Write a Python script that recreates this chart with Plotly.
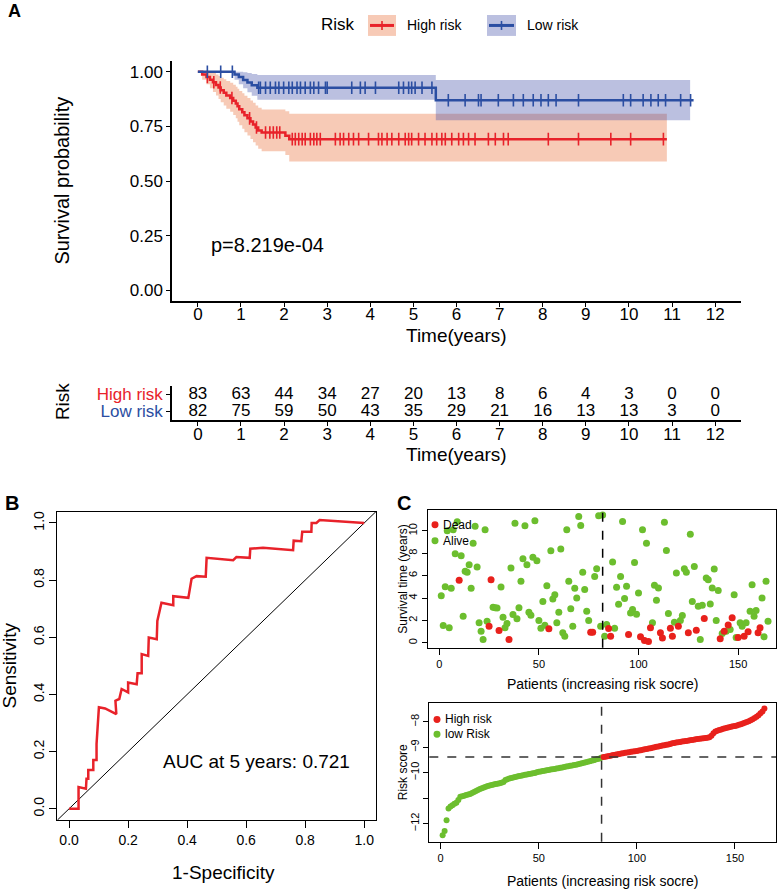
import plotly.graph_objects as go
import bisect

W, H = 778, 894
FONT = "Liberation Sans, Arial, sans-serif"

# ---------------- Panel A: Kaplan-Meier data ----------------
hr_t = [0, 0.10, 0.20, 0.28, 0.35, 0.42, 0.48, 0.53, 0.60, 0.66, 0.75, 0.82, 0.88, 0.92, 0.96,
        1.03, 1.08, 1.15, 1.22, 1.28, 1.34, 1.40, 1.48, 2.03, 2.12, 10.88]
hr_s = [1.0, 0.988, 0.976, 0.964, 0.952, 0.940, 0.928, 0.916, 0.904, 0.892, 0.880, 0.868, 0.855,
        0.842, 0.829, 0.815, 0.801, 0.787, 0.773, 0.759, 0.745, 0.731, 0.722, 0.707, 0.692, 0.692]
hr_up = [1.0, 1.0, 1.0, 0.999, 0.994, 0.988, 0.981, 0.973, 0.966, 0.958, 0.950, 0.941, 0.932,
         0.922, 0.912, 0.902, 0.891, 0.880, 0.869, 0.858, 0.846, 0.835, 0.827, 0.820, 0.808, 0.808]
hr_lo = [1.0, 0.964, 0.943, 0.925, 0.908, 0.892, 0.876, 0.861, 0.846, 0.831, 0.817, 0.802, 0.787,
         0.771, 0.756, 0.740, 0.724, 0.709, 0.693, 0.678, 0.663, 0.648, 0.637, 0.619, 0.590, 0.590]
hr_c = [0.22, 0.37, 0.52, 0.79, 1.20, 1.36, 1.57, 1.67, 1.75, 1.83, 1.90, 2.19, 2.26, 2.34, 2.42,
        2.49, 2.61, 2.69, 2.76, 2.84, 3.19, 3.30, 3.38, 3.50, 3.61, 3.73, 3.96, 4.19, 4.27, 4.39,
        4.50, 4.66, 4.81, 4.89, 4.96, 5.12, 5.27, 5.43, 5.54, 5.66, 5.74, 5.89, 6.05, 6.16, 6.28,
        6.43, 6.74, 6.90, 7.09, 7.20, 8.13, 8.83, 9.58, 10.04, 10.80]

lr_t = [0, 0.85, 0.95, 1.05, 1.15, 1.25, 1.38, 5.52, 11.50]
lr_s = [1.0, 0.988, 0.976, 0.963, 0.951, 0.939, 0.927, 0.870, 0.870]
lr_up = [1.0, 1.0, 1.0, 0.998, 0.994, 0.990, 0.985, 0.963, 0.963]
lr_lo = [1.0, 0.964, 0.943, 0.925, 0.907, 0.890, 0.872, 0.778, 0.778]
lr_c = [0.22, 0.53, 0.80, 1.41, 1.45, 1.57, 1.68, 1.80, 1.88, 1.99, 2.11, 2.19, 2.30, 2.38, 2.49,
        2.61, 2.69, 2.80, 2.96, 3.00, 3.57, 3.77, 3.88, 4.12, 4.66, 4.77, 4.89, 4.96, 5.04, 5.20,
        5.43, 5.81, 6.20, 6.51, 6.57, 6.97, 7.32, 7.55, 7.78, 7.96, 8.13, 8.31, 8.83, 9.87, 10.04,
        10.33, 10.51, 10.68, 10.85, 11.20, 11.43]

years = [0, 1, 2, 3, 4, 5, 6, 7, 8, 9, 10, 11, 12]
hr_n = [83, 63, 44, 34, 27, 20, 13, 8, 6, 4, 3, 0, 0]
lr_n = [82, 75, 59, 50, 43, 35, 29, 21, 16, 13, 13, 3, 0]
p_text = "p=8.219e-04"

# ---------------- Panel B: ROC ----------------
roc_fpr = [0, 0.032, 0.032, 0.057, 0.059, 0.065, 0.065, 0.082, 0.082, 0.093, 0.093, 0.095, 0.097,
           0.101, 0.122, 0.160, 0.157, 0.170, 0.178, 0.200, 0.200, 0.229, 0.232, 0.246, 0.246,
           0.268, 0.270, 0.297, 0.299, 0.306, 0.313, 0.353, 0.353, 0.404, 0.415, 0.432, 0.463,
           0.466, 0.556, 0.567, 0.612, 0.614, 0.657, 0.759, 0.761, 0.787, 0.790, 0.821, 0.822,
           0.838, 0.849, 1.0]
roc_tpr = [0, 0, 0.076, 0.070, 0.105, 0.105, 0.136, 0.136, 0.171, 0.171, 0.227, 0.273, 0.314,
           0.355, 0.351, 0.331, 0.378, 0.384, 0.419, 0.407, 0.442, 0.436, 0.474, 0.474, 0.541,
           0.535, 0.599, 0.593, 0.657, 0.688, 0.721, 0.712, 0.744, 0.738, 0.805, 0.814, 0.812,
           0.878, 0.870, 0.881, 0.878, 0.910, 0.913, 0.905, 0.938, 0.936, 0.969, 0.969, 1.0,
           1.0, 1.010, 1.0]
auc_text = "AUC at 5 years: 0.721"

# ---------------- Panel C: survival status by patient ----------------
surv_time = [4.2, 1.54, 5.0, 10.0, 1.34, 4.87, 10.1, 7.95, 10.8, 5.58, 7.77, 2.37, 6.38, 6.29,
             6.97, 4.87, 8.9, 10.4, 6.77, 1.78, 1.04, 0.3, 10.1, 1.93, 1.48, 5.64, 3.18, 3.12,
             3.1, 1.1, 4.98, 2.28, 1.34, 1.72, 0.3, 6.68, 2.52, 10.68, 2.14, 3.12, 5.49, 7.5,
             10.45, 6.97, 2.73, 2.46, 7.63, 10.9, 7.33, 2.0, 1.3, 3.68, 1.57, 5.1, 1.25, 8.22,
             3.92, 4.3, 1.78, 2.73, 8.37, 0.89, 0.59, 10.1, 5.49, 3.03, 1.48, 4.87, 4.0, 11.28,
             10.47, 6.29, 4.75, 2.82, 2.0, 0.95, 0.95, 5.93, 6.62, 11.34, 1.48, 11.42, 0.59,
             1.63, 1.28, 0.59, 7.21, 1.3, 4.96, 3.44, 5.93, 10.83, 3.95, 5.04, 0.74, 2.67, 2.97,
             7.18, 2.55, 4.45, 0.53, 10.1, 0.21, 8.9, 0.12, 1.34, 1.78, 5.13, 3.8, 4.9, 0.89,
             0.42, 10.77, 8.25, 2.61, 1.3, 0.59, 1.84, 6.23, 1.48, 2.0, 2.43, 6.62, 6.29, 0.89,
             9.7, 3.68, 6.82, 1.13, 3.26, 0.3, 3.35, 2.17, 5.79, 5.64, 3.47, 4.9, 6.59, 2.0,
             4.66, 0.36, 0.83, 1.04, 1.04, 1.6, 1.19, 2.23, 4.3, 0.47, 0.47, 1.78, 1.48, 0.59,
             1.78, 0.98, 2.82, 5.19, 2.37, 2.88, 0.89, 1.34, 4.0, 0.53, 5.49, 1.93]
surv_dead = [0, 0, 0, 0, 0, 0, 0, 0, 0, 1, 0, 0, 0, 0,
             0, 0, 0, 0, 0, 0, 0, 0, 0, 0, 1, 1, 0, 0,
             0, 1, 0, 0, 0, 0, 1, 0, 0, 0, 0, 0, 0, 0,
             0, 0, 0, 0, 0, 0, 0, 0, 0, 0, 0, 0, 1, 0,
             0, 0, 0, 0, 0, 0, 0, 0, 0, 0, 0, 0, 0, 0,
             0, 0, 0, 0, 0, 1, 1, 0, 0, 0, 0, 0, 0,
             0, 1, 1, 0, 0, 0, 0, 0, 0, 0, 0, 1, 0, 0,
             0, 0, 0, 1, 0, 1, 0, 1, 1, 0, 0, 0, 0, 1,
             1, 0, 0, 0, 1, 1, 0, 0, 1, 0, 0, 0, 0, 1,
             0, 0, 0, 1, 0, 0, 0, 1, 0, 0, 0, 0, 0, 0,
             0, 1, 0, 1, 0, 1, 0, 1, 0, 0, 1, 0, 0, 1,
             0, 1, 0, 0, 0, 0, 1, 1, 0, 0, 0, 0]

risk_score = [-12.46, -12.29, -11.87, -11.41, -11.33, -11.28, -11.22, -11.18, -11.08, -10.95,
              -10.93, -10.91, -10.88, -10.86, -10.84, -10.80, -10.76, -10.72, -10.68, -10.64,
              -10.61, -10.58, -10.56, -10.53, -10.51, -10.49, -10.47, -10.45, -10.44, -10.42,
              -10.40, -10.37, -10.29, -10.26, -10.23, -10.21, -10.19, -10.17, -10.15, -10.13,
              -10.12, -10.10, -10.08, -10.07, -10.05, -10.04, -10.02, -10.01, -9.99, -9.97,
              -9.96, -9.94, -9.93, -9.91, -9.90, -9.88, -9.87, -9.86, -9.84, -9.83,
              -9.81, -9.80, -9.78, -9.76, -9.75, -9.73, -9.72, -9.70, -9.69, -9.67,
              -9.65, -9.63, -9.61, -9.59, -9.57, -9.55, -9.53, -9.51, -9.48, -9.46,
              -9.44, -9.41, -9.39, -9.38, -9.36, -9.35, -9.33, -9.31, -9.30, -9.28,
              -9.27, -9.25, -9.24, -9.22, -9.21, -9.20, -9.18, -9.17, -9.16, -9.15,
              -9.13, -9.12, -9.10, -9.08, -9.07, -9.05, -9.04, -9.02, -9.00, -8.98,
              -8.97, -8.95, -8.93, -8.92, -8.90, -8.89, -8.87, -8.85, -8.84, -8.82,
              -8.81, -8.80, -8.78, -8.77, -8.76, -8.75, -8.73, -8.72, -8.71, -8.69,
              -8.68, -8.67, -8.66, -8.65, -8.64, -8.63, -8.61, -8.55, -8.45, -8.38,
              -8.35, -8.32, -8.30, -8.28, -8.26, -8.24, -8.22, -8.20, -8.18, -8.17,
              -8.15, -8.12, -8.10, -8.07, -8.04, -8.01, -7.98, -7.94, -7.90, -7.85,
              -7.80, -7.74, -7.67, -7.60, -7.48]
n_low = 82
cutoff_score = -9.39

RED = "#E8222A"
BLUE = "#2B4EA2"
GREEN = "#6CBE2E"
DRED = "#E8211C"
RED_BAND = "rgba(240,150,110,0.5)"
BLUE_BAND = "rgba(60,75,165,0.35)"


def xd(a, b):
    return [a / W, b / W]


def yd(top, bottom):
    return [1 - bottom / H, 1 - top / H]


def step_val(ts, ss, t):
    i = bisect.bisect_right(ts, t) - 1
    return ss[max(i, 0)]


fig = go.Figure()

# --- KM bands ---
fig.add_trace(go.Scatter(x=hr_t, y=hr_lo, mode="lines", line=dict(width=0, shape="hv"),
                         xaxis="x", yaxis="y", hoverinfo="skip"))
fig.add_trace(go.Scatter(x=hr_t, y=hr_up, mode="lines", line=dict(width=0, shape="hv"),
                         fill="tonexty", fillcolor=RED_BAND, xaxis="x", yaxis="y", hoverinfo="skip"))
band_t = lr_t[:-1] + [11.42]
fig.add_trace(go.Scatter(x=band_t, y=lr_lo, mode="lines", line=dict(width=0, shape="hv"),
                         xaxis="x", yaxis="y", hoverinfo="skip"))
fig.add_trace(go.Scatter(x=band_t, y=lr_up, mode="lines", line=dict(width=0, shape="hv"),
                         fill="tonexty", fillcolor=BLUE_BAND, xaxis="x", yaxis="y", hoverinfo="skip"))
# --- KM lines ---
fig.add_trace(go.Scatter(x=hr_t, y=hr_s, mode="lines", line=dict(color=RED, width=2.5, shape="hv"),
                         xaxis="x", yaxis="y"))
fig.add_trace(go.Scatter(x=lr_t, y=lr_s, mode="lines", line=dict(color=BLUE, width=2.5, shape="hv"),
                         xaxis="x", yaxis="y"))
fig.add_trace(go.Scatter(x=hr_c, y=[step_val(hr_t, hr_s, t) for t in hr_c], mode="markers",
                         marker=dict(symbol="line-ns", size=9, line=dict(color=RED, width=1.6)),
                         xaxis="x", yaxis="y"))
fig.add_trace(go.Scatter(x=lr_c, y=[step_val(lr_t, lr_s, t) for t in lr_c], mode="markers",
                         marker=dict(symbol="line-ns", size=9, line=dict(color=BLUE, width=1.6)),
                         xaxis="x", yaxis="y"))

# --- risk table ---
fig.add_trace(go.Scatter(x=years, y=[1] * len(years), mode="text", text=[str(v) for v in hr_n],
                         textfont=dict(size=17, color="black", family=FONT),
                         xaxis="x2", yaxis="y2"))
fig.add_trace(go.Scatter(x=years, y=[0] * len(years), mode="text", text=[str(v) for v in lr_n],
                         textfont=dict(size=17, color="black", family=FONT),
                         xaxis="x2", yaxis="y2"))

# --- ROC ---
fig.add_trace(go.Scatter(x=[-0.04, 1.04], y=[-0.04, 1.04], mode="lines",
                         line=dict(color="black", width=1), xaxis="x3", yaxis="y3"))
fig.add_trace(go.Scatter(x=roc_fpr, y=roc_tpr, mode="lines", line=dict(color=RED, width=2.5),
                         xaxis="x3", yaxis="y3"))

# --- C top scatter ---
pid = list(range(1, len(surv_time) + 1))
fig.add_trace(go.Scatter(x=[p for p, d in zip(pid, surv_dead) if d == 0],
                         y=[t for t, d in zip(surv_time, surv_dead) if d == 0], mode="markers",
                         marker=dict(color=GREEN, size=7), xaxis="x4", yaxis="y4"))
fig.add_trace(go.Scatter(x=[p for p, d in zip(pid, surv_dead) if d == 1],
                         y=[t for t, d in zip(surv_time, surv_dead) if d == 1], mode="markers",
                         marker=dict(color=DRED, size=7), xaxis="x4", yaxis="y4"))

# --- C bottom risk score ---
rid = list(range(1, len(risk_score) + 1))
fig.add_trace(go.Scatter(x=rid[:n_low], y=risk_score[:n_low], mode="markers",
                         marker=dict(color=GREEN, size=6), xaxis="x5", yaxis="y5"))
fig.add_trace(go.Scatter(x=rid[n_low:], y=risk_score[n_low:], mode="markers",
                         marker=dict(color=DRED, size=6), xaxis="x5", yaxis="y5"))

ax_common = dict(showgrid=False, zeroline=False, showline=True, linecolor="black",
                 ticks="outside", tickcolor="black")

layout = dict(
    width=W, height=H, margin=dict(l=0, r=0, t=0, b=0),
    paper_bgcolor="white", plot_bgcolor="rgba(0,0,0,0)",
    font=dict(family=FONT, color="black"),
    showlegend=False,
    # Panel A
    xaxis=dict(ax_common, domain=xd(172, 741), range=[-0.6, 12.6], tickvals=years, linewidth=1.5,
               ticklen=4, tickwidth=1.3, tickfont=dict(size=17), ticklabelstandoff=-7, anchor="y"),
    yaxis=dict(ax_common, domain=yd(60, 301), range=[-0.05, 1.05], tickvals=[0, 0.25, 0.5, 0.75, 1],
               ticktext=["0.00", "0.25", "0.50", "0.75", "1.00"], linewidth=1.5, ticklen=4,
               tickwidth=1.3, tickfont=dict(size=17), anchor="x"),
    xaxis2=dict(ax_common, domain=xd(172, 741), range=[-0.6, 12.6], tickvals=years, linewidth=1.5,
                ticklen=4, tickwidth=1.3, tickfont=dict(size=17), ticklabelstandoff=-6, anchor="y2"),
    yaxis2=dict(ax_common, domain=yd(385.5, 420), range=[-0.5, 1.5], tickvals=[0, 1],
                ticktext=["<span style='color:%s'>Low risk</span>" % BLUE,
                          "<span style='color:%s'>High risk</span>" % RED],
                linewidth=1.5, ticklen=4, tickwidth=1.3, tickfont=dict(size=17), anchor="x2"),
    # Panel B
    xaxis3=dict(ax_common, domain=xd(57.3, 376), range=[-0.04, 1.04],
                tickvals=[0, 0.2, 0.4, 0.6, 0.8, 1.0], ticktext=["0.0", "0.2", "0.4", "0.6", "0.8", "1.0"],
                mirror=True, linewidth=1.2, ticklen=7, tickfont=dict(size=14), anchor="y3"),
    yaxis3=dict(ax_common, domain=yd(511.7, 821), range=[-0.04, 1.04],
                tickvals=[0, 0.2, 0.4, 0.6, 0.8, 1.0], ticktext=["0.0", "0.2", "0.4", "0.6", "0.8", "1.0"],
                mirror=True, linewidth=1.2, ticklen=7, tickangle=-90, tickfont=dict(size=14), anchor="x3"),
    # Panel C top
    xaxis4=dict(ax_common, domain=xd(427.7, 776), range=[-5.8, 169], tickvals=[0, 50, 100, 150],
                mirror=True, linewidth=1.2, ticklen=6, tickfont=dict(size=11), anchor="y4"),
    yaxis4=dict(ax_common, domain=yd(510, 648.3), range=[-0.45, 11.87], tickvals=[0, 2, 4, 6, 8, 10],
                mirror=True, linewidth=1.2, ticklen=5, tickangle=-90, tickfont=dict(size=11), anchor="x4"),
    # Panel C bottom
    xaxis5=dict(ax_common, domain=xd(429.3, 776), range=[-5.8, 170.9], tickvals=[0, 50, 100, 150],
                mirror=True, linewidth=1.2, ticklen=6, tickfont=dict(size=11), anchor="y5"),
    yaxis5=dict(ax_common, domain=yd(704, 842.7), range=[-12.72, -7.28], tickvals=[-12, -11, -10, -9, -8],
                ticktext=["\u221212", "", "\u221210", "\u22129", "\u22128"],
                mirror=True, linewidth=1.2, ticklen=5, tickangle=-90, tickfont=dict(size=11), anchor="x5"),
)

shapes = []
# Legend keys for panel A
for (x0, x1, fc, lc) in [(368, 396, RED_BAND, RED), (487, 516, BLUE_BAND, BLUE)]:
    shapes.append(dict(type="rect", xref="paper", yref="paper", x0=x0 / W, x1=x1 / W,
                       y0=1 - 35 / H, y1=1 - 14 / H, fillcolor=fc, line=dict(width=0)))
    shapes.append(dict(type="line", xref="paper", yref="paper", x0=(x0 + 2) / W, x1=(x1 - 2) / W,
                       y0=1 - 24.5 / H, y1=1 - 24.5 / H, line=dict(color=lc, width=3)))
    shapes.append(dict(type="line", xref="paper", yref="paper", x0=(x0 + x1) / 2 / W, x1=(x0 + x1) / 2 / W,
                       y0=1 - 20 / H, y1=1 - 29 / H, line=dict(color=lc, width=1.6)))
# Legend dots for panel C
for (cx, cy, col) in [(435, 525, DRED), (435, 541, GREEN), (437, 720, DRED), (437, 735, GREEN)]:
    shapes.append(dict(type="circle", xref="paper", yref="paper", x0=(cx - 3.5) / W, x1=(cx + 3.5) / W,
                       y0=1 - (cy + 3.5) / H, y1=1 - (cy - 3.5) / H, fillcolor=col, line=dict(width=0)))
# dashed cutoff lines
shapes.append(dict(type="line", xref="x4", yref="y4 domain", x0=n_low, x1=n_low, y0=0, y1=1,
                   line=dict(color="black", width=1.5, dash="dash")))
shapes.append(dict(type="line", xref="x5", yref="y5 domain", x0=n_low, x1=n_low, y0=0, y1=1,
                   line=dict(color="#333333", width=1.5, dash="dash")))
shapes.append(dict(type="line", xref="x5 domain", yref="y5", x0=0, x1=1, y0=cutoff_score, y1=cutoff_score,
                   line=dict(color="#333333", width=1.5, dash="dash")))
layout["shapes"] = shapes


def ann(text, x, y, size, angle=0, xanchor="center", color="black", bold=False):
    if bold:
        text = "<b>%s</b>" % text
    return dict(text=text, x=x / W, y=1 - y / H, xref="paper", yref="paper", showarrow=False,
                xanchor=xanchor, yanchor="middle", textangle=angle,
                font=dict(size=size, color=color, family=FONT))


annotations = [
    ann("A", 14, 10, 18, bold=True),
    ann("Risk", 338, 24, 17),
    ann("High risk", 405, 24, 14, xanchor="left"),
    ann("Low risk", 525, 24, 14, xanchor="left"),
    ann("Survival probability", 62, 180, 20, angle=-90),
    ann("Time(years)", 456, 335, 19),
    ann(p_text, 209, 245, 20, xanchor="left"),
    ann("Risk", 62, 402, 19, angle=-90),
    ann("Time(years)", 456, 455, 19),
    ann("B", 12, 503, 20, bold=True),
    ann("Sensitivity", 10, 666, 19, angle=-90),
    ann("1-Specificity", 223, 873, 19),
    ann(auc_text, 256.5, 762, 19),
    ann("C", 404, 503, 20, bold=True),
    ann("Survival time (years)", 403, 579, 12, angle=-90),
    ann("Patients (increasing risk socre)", 602, 685, 14),
    ann("Risk score", 403, 773, 12, angle=-90),
    ann("Patients (increasing risk socre)", 602, 882, 14),
    ann("Dead", 441, 525, 12, xanchor="left"),
    ann("Alive", 441, 541, 12, xanchor="left"),
    ann("High risk", 443, 720, 12, xanchor="left"),
    ann("low Risk", 443, 735, 12, xanchor="left"),
]
layout["annotations"] = annotations
fig.update_layout(**layout)
fig.update_traces(showlegend=False)

fig.write_html("out.html", config={"displayModeBar": False},
               post_script="document.body.style.margin='0px';document.body.style.overflow='hidden';")
